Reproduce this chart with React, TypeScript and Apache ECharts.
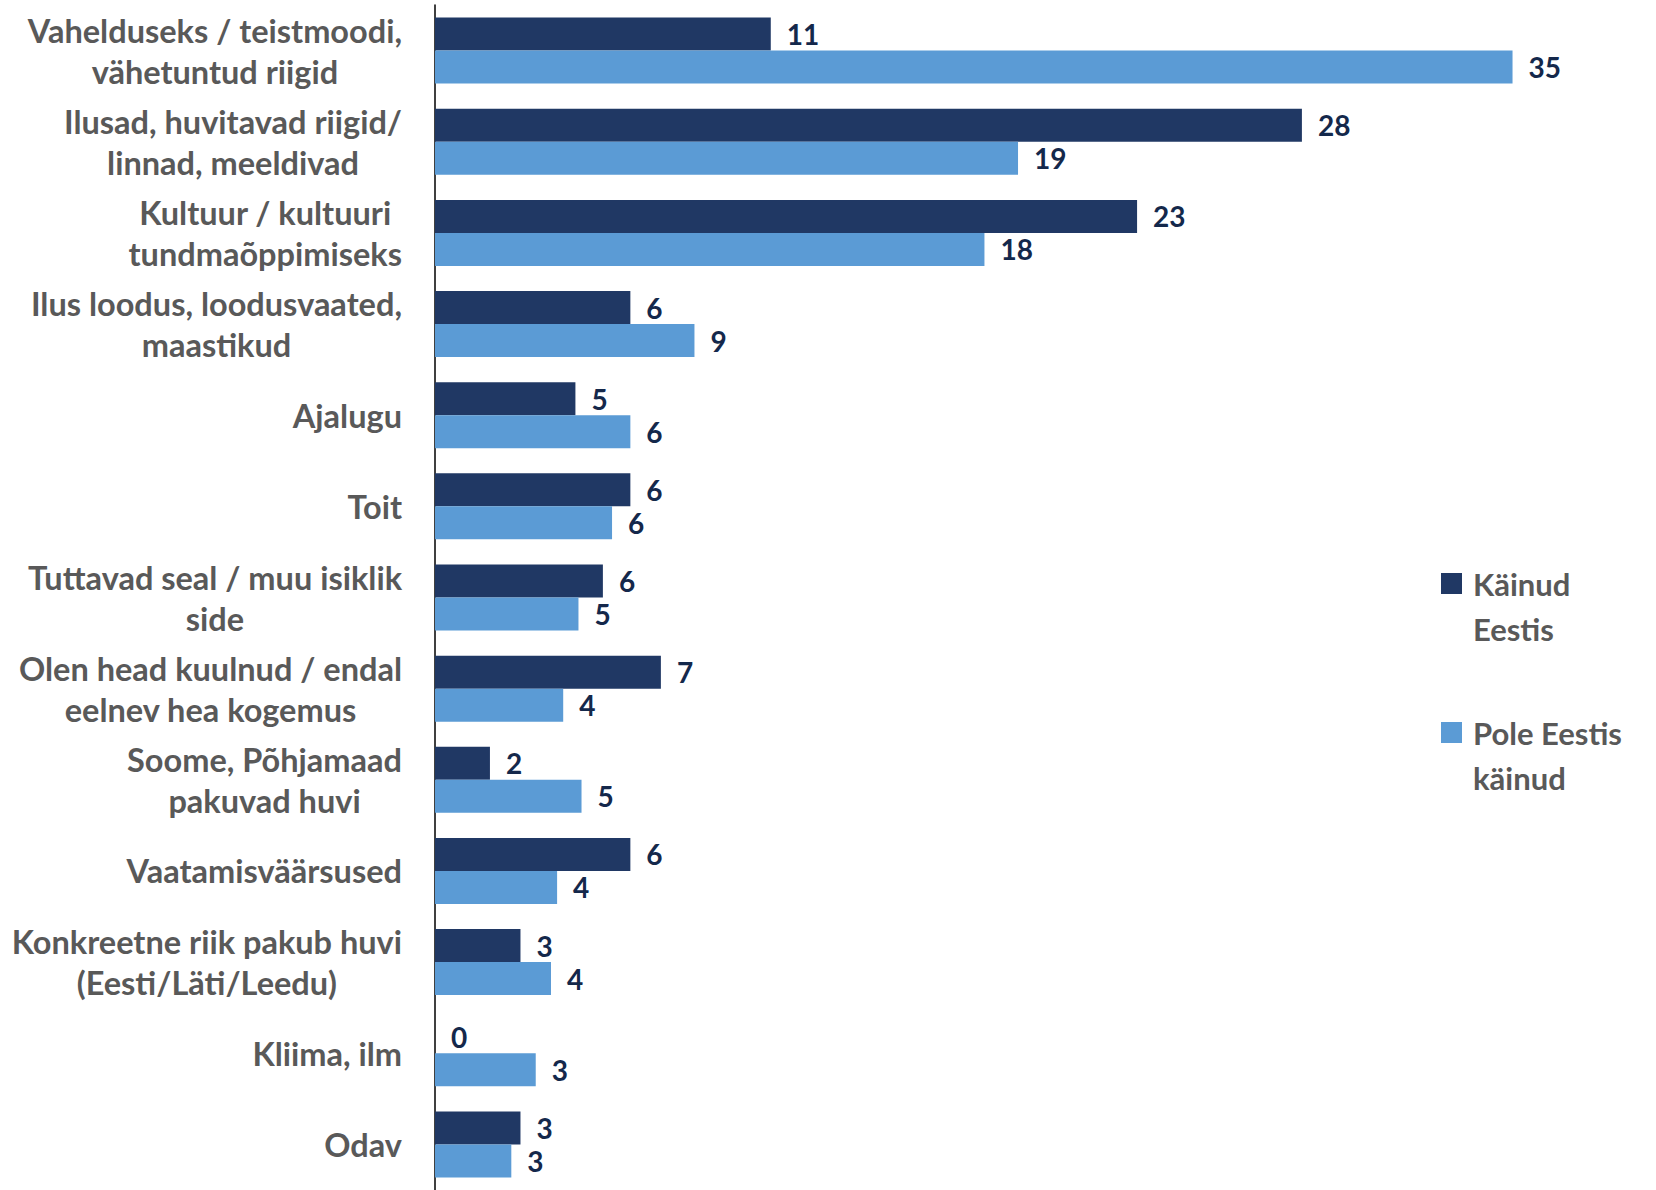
import React, { useEffect, useRef } from "react";
import * as echarts from "echarts";

const categories = [
  "Vahelduseks / teistmoodi,\nvähetuntud riigid",
  "Ilusad, huvitavad riigid/\nlinnad, meeldivad",
  "Kultuur / kultuuri\ntundmaõppimiseks",
  "Ilus loodus, loodusvaated,\nmaastikud",
  "Ajalugu",
  "Toit",
  "Tuttavad seal / muu isiklik\nside",
  "Olen head kuulnud / endal\neelnev hea kogemus",
  "Soome, Põhjamaad\npakuvad huvi",
  "Vaatamisväärsused",
  "Konkreetne riik pakub huvi\n(Eesti/Läti/Leedu)",
  "Kliima, ilm",
  "Odav",
];

const seriesNames = ["Käinud Eestis", "Pole Eestis käinud"];
const legendLabels = ["Käinud\nEestis", "Pole Eestis\nkäinud"];

const kainudEestis = [11.0, 28.4, 23.0, 6.4, 4.6, 6.4, 5.5, 7.4, 1.8, 6.4, 2.8, 0, 2.8];
const poleEestisKainud = [35.3, 19.1, 18.0, 8.5, 6.4, 5.8, 4.7, 4.2, 4.8, 4.0, 3.8, 3.3, 2.5];

const colors = ["#203864", "#5b9bd5"];
const FONT = "Lato";

export default function App() {
  const ref = useRef<HTMLDivElement>(null);

  useEffect(() => {
    if (!ref.current) return;
    const chart = echarts.init(ref.current, null, { renderer: "svg" });
    const valueLabel = {
      show: true,
      position: "right",
      distance: 16,
      color: "#14284b",
      fontSize: 28,
      fontWeight: "bold",
      fontFamily: FONT,
      formatter: (p: any) => String(Math.round(p.value)),
    };
    chart.setOption({
      animation: false,
      backgroundColor: "#ffffff",
      grid: { left: 435, top: 5, width: 1222, height: 1192, containLabel: false },
      legend: {
        orient: "vertical",
        left: 1441,
        top: 516,
        padding: 0,
        itemWidth: 21,
        itemHeight: 21,
        itemGap: 21,
        icon: "rect",
        data: seriesNames,
        formatter: (name: string) =>
          "{b|}\n" +
          legendLabels[seriesNames.indexOf(name)]
            .split("\n")
            .map((l) => `{a|${l}}`)
            .join("\n"),
        textStyle: {
          rich: {
            a: {
              color: "#595959",
              fontSize: 31,
              fontWeight: "bold",
              fontFamily: FONT,
              lineHeight: 45,
              padding: [0, 0, 0, 6],
            },
            b: { fontSize: 31, lineHeight: 45, height: 45 },
          },
        },
      },
      xAxis: {
        type: "value",
        min: 0,
        max: 40,
        show: false,
        splitLine: { show: false },
      },
      yAxis: {
        type: "category",
        inverse: true,
        data: categories,
        axisLine: { show: true, lineStyle: { color: "#000000", width: 1.5 } },
        axisTick: { show: false },
        axisLabel: {
          margin: 33,
          align: "right",
          formatter: (v: string) =>
            v
              .split("\n")
              .map((l) => `{c|${l}}`)
              .join("\n"),
          rich: {
            c: {
              align: "center",
              color: "#595959",
              fontSize: 32.5,
              fontWeight: "bold",
              fontFamily: FONT,
              lineHeight: 41,
            },
          },
        },
      },
      series: [
        {
          name: seriesNames[0],
          type: "bar",
          data: kainudEestis,
          barWidth: 33,
          barGap: "0%",
          itemStyle: { color: colors[0] },
          label: valueLabel,
        },
        {
          name: seriesNames[1],
          type: "bar",
          data: poleEestisKainud,
          barWidth: 33,
          barGap: "0%",
          itemStyle: { color: colors[1] },
          label: valueLabel,
        },
      ],
    });
    return () => chart.dispose();
  }, []);

  return (
    <div
      ref={ref}
      style={{ position: "fixed", left: 0, top: 0, width: 1656, height: 1190, background: "#fff" }}
    />
  );
}
